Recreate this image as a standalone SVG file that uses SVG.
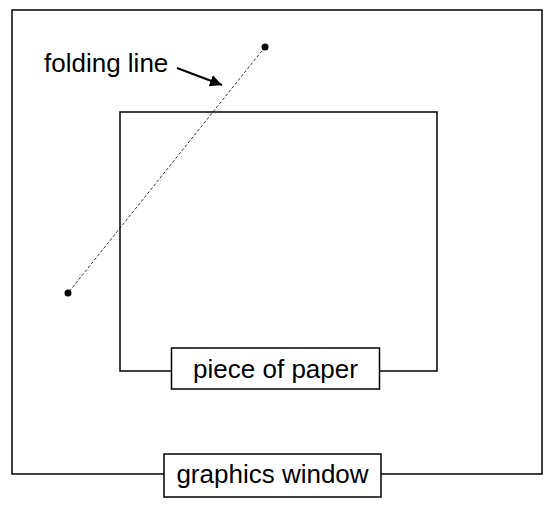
<svg xmlns="http://www.w3.org/2000/svg" width="554" height="506" viewBox="0 0 554 506">
<style>
.frame{fill:none;stroke:#000;stroke-width:1.5}
.label{fill:#fff;stroke:#000;stroke-width:1.5}
text{font-family:"Liberation Sans",Arial,sans-serif;font-size:26px;fill:#000}
.fold{stroke:#000;stroke-width:0.8;stroke-dasharray:3,2;fill:none}
</style>
<defs>
<marker id="ah" viewBox="0 0 10 10" refX="10" refY="5" markerWidth="6" markerHeight="6" markerUnits="strokeWidth" orient="auto">
<path d="M0,0 L10,5 L0,10 Z" fill="#000"/>
</marker>
</defs>
<g id="graphics-window">
<rect class="frame" x="12" y="10" width="530" height="464"/>
<rect class="label" x="164" y="454" width="217" height="43"/>
<text x="272.5" y="483" text-anchor="middle">graphics window</text>
</g>
<g id="piece-of-paper">
<rect class="frame" x="120" y="112" width="317" height="259"/>
<rect class="label" x="171.5" y="348" width="208" height="41"/>
<text x="275.5" y="378" text-anchor="middle">piece of paper</text>
</g>
<g id="folding-line">
<line class="fold" x1="265" y1="47" x2="68" y2="293"/>
<circle cx="265" cy="47" r="3.5" fill="#000"/>
<circle cx="68" cy="293" r="3.5" fill="#000"/>
<text x="44" y="72">folding line</text>
</g>
<g id="connectors">
<line x1="177" y1="68" x2="222" y2="85" stroke="#000" stroke-width="2" marker-end="url(#ah)"/>
</g>
</svg>
